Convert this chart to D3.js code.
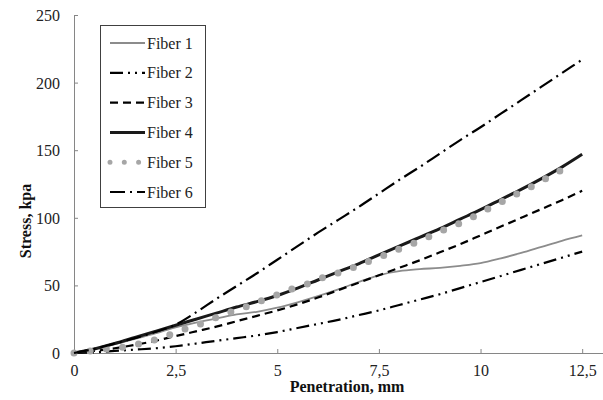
<!DOCTYPE html>
<html>
<head>
<meta charset="utf-8">
<script src="https://cdn.jsdelivr.net/npm/d3@7"></script>
<style>
  body { margin: 0; background: #fff; }
  svg text { font-family: "Liberation Serif", "DejaVu Serif", "Times New Roman", serif; }
</style>
</head>
<body>
<svg id="chart"></svg>
<script>
const penetration = [0, 0.5, 1, 1.5, 2, 2.5, 3, 3.5, 4, 4.5, 5, 5.5, 6, 6.5, 7, 7.5, 8, 8.5, 9, 9.5, 10, 10.5, 11, 11.5, 12, 12.5];
const fiber1 = [0, 3, 6.5, 10.5, 14.5, 19, 22.5, 25.5, 28.5, 30.5, 33.5, 37.5, 42, 47, 52.5, 57.5, 60.5, 62, 63, 64.5, 66.5, 70, 74, 78.5, 83, 87];
const fiber2 = [0, 0.5, 1.5, 2.5, 3.5, 5, 7, 9, 11, 13, 15.5, 18.5, 21.5, 24.5, 28, 31.5, 35.5, 39.5, 43.5, 48, 52.5, 57, 61.5, 66, 70.5, 75];
const fiber3 = [0, 1.5, 3.5, 6, 9, 12.5, 16, 19.5, 23.5, 27.5, 31.5, 36, 41, 46.5, 52, 57.5, 63, 68.5, 74.5, 80.5, 87, 93.5, 100, 106.5, 113, 120];
const fiber4 = [0, 3, 7, 11.5, 16, 20.5, 25, 29.5, 34, 38, 42.5, 48, 54, 60, 66, 72.5, 79, 85.5, 92, 99, 106, 113.5, 121, 129, 137.5, 147];
const fiber6 = [0, 3, 7, 11, 15.5, 21, 30, 40, 49.5, 59, 69, 79, 89, 98.5, 108, 118, 128, 137.5, 147.5, 157.5, 167, 177, 187, 197, 207, 217];
// fiber 5 has its own readings, it stops a little before 12.5
const fiber5X = [0, 0.39, 0.8, 1.2, 1.58, 1.97, 2.34, 2.73, 3.1, 3.47, 3.86, 4.23, 4.6, 4.99, 5.36, 5.73, 6.1, 6.49, 6.86, 7.23, 7.6, 7.98, 8.35, 8.73, 9.09, 9.46, 9.83, 10.17, 10.53, 10.89, 11.25, 11.6, 11.96, 12.29];
const fiber5 = [0, 1.5, 3, 4.3, 6.7, 9.6, 13.3, 17.7, 21.4, 25.9, 30.3, 34.2, 38.5, 42.9, 47.3, 51, 55.5, 59.2, 63.1, 67.6, 71.8, 76.7, 81.1, 86, 91, 95.6, 100.8, 106.3, 111.9, 117.6, 123, 128.9, 134.8, 141];
const seriesNames = ["Fiber 1", "Fiber 2", "Fiber 3", "Fiber 4", "Fiber 5", "Fiber 6"];
const xTicks = [0, 2.5, 5, 7.5, 10, 12.5];
const yTicks = [0, 50, 100, 150, 200, 250];

const WIDTH = 603;
const HEIGHT = 400;
const PLOT = { left: 74, right: 602.5, top: 15, bottom: 353 };
const FONT = "'Liberation Serif', 'DejaVu Serif', 'Times New Roman', serif";

const styles = {
    "Fiber 1": { stroke: "#8c8c8c", width: 1.8, dash: null },
    "Fiber 2": { stroke: "#000", width: 2.2, dash: "13,5,2,5,2,5" },
    "Fiber 3": { stroke: "#000", width: 2.2, dash: "8,5" },
    "Fiber 4": { stroke: "#1a1a1a", width: 3, dash: null },
    "Fiber 5": { stroke: "#a6a6a6", width: 7, dash: "dots" },
    "Fiber 6": { stroke: "#000", width: 2.2, dash: "15,5,2,5" },
};

const series = [
    { name: "Fiber 1", values: penetration.map((x, i) => [x, fiber1[i]]) },
    { name: "Fiber 2", values: penetration.map((x, i) => [x, fiber2[i]]) },
    { name: "Fiber 3", values: penetration.map((x, i) => [x, fiber3[i]]) },
    { name: "Fiber 4", values: penetration.map((x, i) => [x, fiber4[i]]) },
    { name: "Fiber 5", values: fiber5X.map((x, i) => [x, fiber5[i]]) },
    { name: "Fiber 6", values: penetration.map((x, i) => [x, fiber6[i]]) },
];

const SVG = d3.select("#chart").attr("width", WIDTH).attr("height", HEIGHT);

const xScale = d3.scaleLinear().domain([0, 13]).range([PLOT.left, PLOT.right]);
const yScale = d3.scaleLinear().domain([0, 250]).range([PLOT.bottom, PLOT.top]);

// axes, ticks pointing into the plot
const xAxis = d3.axisBottom(xScale).tickValues(xTicks).tickSize(-4).tickSizeOuter(0)
    .tickFormat((d) => String(d).replace(".", ","));
const yAxis = d3.axisLeft(yScale).tickValues(yTicks).tickSize(-4).tickSizeOuter(0);

const gx = SVG.append("g")
    .attr("transform", "translate(0," + PLOT.bottom + ")")
    .call(xAxis)
    .attr("font-family", FONT);
gx.select(".domain").attr("stroke", "#868686");
gx.selectAll(".tick line").attr("stroke", "#868686");
gx.selectAll(".tick text")
    .style("font-family", FONT)
    .attr("font-size", "16px")
    .attr("fill", "#222")
    .attr("dy", null)
    .attr("y", 22.5);

const gy = SVG.append("g")
    .attr("transform", "translate(" + PLOT.left + ",0)")
    .call(yAxis)
    .attr("font-family", FONT);
gy.select(".domain").attr("stroke", "#868686");
gy.selectAll(".tick line").attr("stroke", "#868686");
gy.selectAll(".tick text")
    .style("font-family", FONT)
    .attr("font-size", "16px")
    .attr("fill", "#222")
    .attr("x", -14)
    .attr("dy", "0.34em");

// axis titles
SVG.append("text")
    .attr("x", 347)
    .attr("y", 392)
    .attr("text-anchor", "middle")
    .style("font-family", FONT)
    .attr("font-size", "16px")
    .attr("font-weight", "bold")
    .attr("fill", "#111")
    .text("Penetration, mm");

SVG.append("text")
    .attr("transform", "translate(31,221) rotate(-90)")
    .attr("text-anchor", "middle")
    .style("font-family", FONT)
    .attr("font-size", "16px")
    .attr("font-weight", "bold")
    .attr("fill", "#111")
    .text("Stress, kpa");

const line = d3.line()
    .x((d) => xScale(d[0]))
    .y((d) => yScale(d[1]))
    .curve(d3.curveMonotoneX);

series.forEach((s) => {
    const st = styles[s.name];
    const path = SVG.append("path")
        .datum(s.values)
        .attr("d", line)
        .attr("fill", "none")
        .attr("stroke", st.stroke)
        .attr("stroke-width", st.width);
    if (st.dash === "dots") {
        const L = path.node().getTotalLength();
        path.attr("stroke-dasharray", "0," + (L / (s.values.length - 1)))
            .attr("stroke-linecap", "round");
    } else if (st.dash) {
        path.attr("stroke-dasharray", st.dash);
    }
});

// legend
const legend = SVG.append("g");
legend.append("rect")
    .attr("x", 100.5)
    .attr("y", 25.5)
    .attr("width", 105)
    .attr("height", 182)
    .attr("fill", "#fff")
    .attr("stroke", "#404040")
    .attr("stroke-width", 1);

seriesNames.forEach((name, i) => {
    const st = styles[name];
    const cy = 43 + i * 29.8;
    const sample = legend.append("line")
        .attr("x1", 110)
        .attr("x2", 145)
        .attr("y1", cy)
        .attr("y2", cy)
        .attr("stroke", st.stroke)
        .attr("stroke-width", st.width);
    if (st.dash === "dots") {
        sample.attr("x2", 139).attr("stroke-width", 5)
            .attr("stroke-dasharray", "0,14.3").attr("stroke-linecap", "round");
    } else if (st.dash) {
        sample.attr("stroke-dasharray", st.dash);
    }
    legend.append("text")
        .attr("x", 147)
        .attr("y", cy + 5.5)
        .style("font-family", FONT)
        .attr("font-size", "16px")
        .attr("fill", "#222")
        .text(name);
});
</script>
</body>
</html>
